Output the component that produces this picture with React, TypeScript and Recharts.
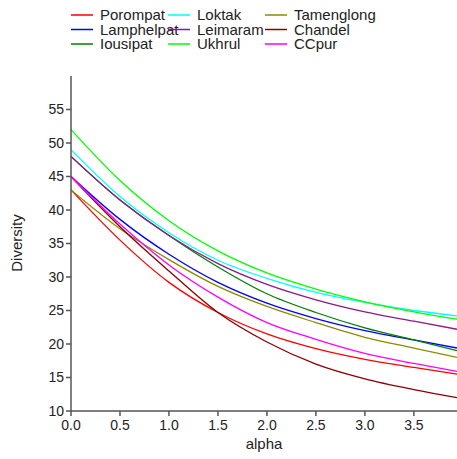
import React from "react";
import { LineChart, Line, XAxis, YAxis, Label } from "recharts";

const alphas = [0, 0.5, 1.0, 1.5, 2.0, 2.5, 3.0, 3.5, 3.94];

const porompat = [43, 35.5, 29.2, 24.7, 21.5, 19.3, 17.7, 16.5, 15.5];
const lamphelpat = [45, 38.6, 33.4, 29.2, 26.1, 23.8, 22.0, 20.6, 19.4];
const iousipat = [48, 41.5, 36.2, 31.5, 27.5, 24.7, 22.4, 20.6, 19.0];
const loktak = [49, 42.0, 36.6, 32.5, 29.8, 27.7, 26.2, 25.0, 24.2];
const leimaram = [48, 41.5, 36.2, 32.0, 28.9, 26.6, 24.8, 23.4, 22.2];
const ukhrul = [52, 44.4, 38.4, 33.9, 30.6, 28.2, 26.3, 24.8, 23.7];
const tamenglong = [43, 37.2, 32.6, 28.6, 25.6, 23.2, 21.0, 19.4, 18.0];
const chandel = [45, 37.5, 30.9, 24.7, 20.3, 17.0, 14.8, 13.2, 12.0];
const ccpur = [45, 37.9, 31.8, 27.0, 23.2, 20.7, 18.6, 17.1, 15.9];

const xTicks = [0, 0.5, 1.0, 1.5, 2.0, 2.5, 3.0, 3.5];
const yTicks = [10, 15, 20, 25, 30, 35, 40, 45, 50, 55];

// legend is laid out column by column, like the original
const series = [
  { key: "Porompat", values: porompat, color: "#ff0000" },
  { key: "Lamphelpat", values: lamphelpat, color: "#0000ff" },
  { key: "Iousipat", values: iousipat, color: "#008000" },
  { key: "Loktak", values: loktak, color: "#00ffff" },
  { key: "Leimaram", values: leimaram, color: "#8b1a8b" },
  { key: "Ukhrul", values: ukhrul, color: "#00ff00" },
  { key: "Tamenglong", values: tamenglong, color: "#8b8b00" },
  { key: "Chandel", values: chandel, color: "#8b0000" },
  { key: "CCpur", values: ccpur, color: "#ff00ff" },
];

const data = alphas.map((a, i) => {
  const row: Record<string, number> = { alpha: a };
  for (const s of series) row[s.key] = s.values[i];
  return row;
});

const font = "'Liberation Sans', Arial, sans-serif";
const axisColor = "#555";
const textColor = "#222";

function ChartLegend() {
  return (
    <svg width={457} height={56} style={{ position: "absolute", left: 0, top: 0 }}>
      {series.map((s, i) => {
        const col = Math.floor(i / 3);
        const row = i % 3;
        const x = 71 + col * 97;
        const y = 15 + row * 14.5;
        return (
          <g key={s.key}>
            <line x1={x} x2={x + 22} y1={y} y2={y} stroke={s.color} strokeWidth={1.5} />
            <text x={x + 29} y={y + 5} fontSize={15} fontFamily={font} fill={textColor}>
              {s.key}
            </text>
          </g>
        );
      })}
    </svg>
  );
}

export default function App() {
  return (
    <div style={{ position: "absolute", left: 0, top: 0, width: 457, height: 459, background: "#fff" }}>
      <LineChart width={457} height={459} data={data} margin={{ top: 76, right: 0, bottom: 0, left: 0 }}>
        <XAxis
          dataKey="alpha"
          type="number"
          domain={[0, 3.94]}
          ticks={xTicks}
          tickFormatter={(v: number) => v.toFixed(1)}
          height={48}
          stroke={axisColor}
          strokeWidth={1.5}
          tickSize={5}
          tickMargin={4}
          tick={{ fill: textColor, fontSize: 14, fontFamily: font }}
          allowDataOverflow
        >
          <Label
            content={() => (
              <text x={264} y={449} textAnchor="middle" fontSize={15} fontFamily={font} fill={textColor}>
                alpha
              </text>
            )}
          />
        </XAxis>
        <YAxis
          type="number"
          domain={[10, 60]}
          ticks={yTicks}
          width={71}
          stroke={axisColor}
          strokeWidth={1.5}
          tickSize={5}
          tickMargin={2}
          tick={{ fill: textColor, fontSize: 14, fontFamily: font }}
          allowDataOverflow
        >
          <Label
            content={() => (
              <text
                x={22}
                y={243}
                textAnchor="middle"
                transform="rotate(-90 22 243)"
                fontSize={15}
                fontFamily={font}
                fill={textColor}
              >
                Diversity
              </text>
            )}
          />
        </YAxis>
        {series.map((s) => (
          <Line
            key={s.key}
            dataKey={s.key}
            type="monotone"
            stroke={s.color}
            strokeWidth={1.3}
            dot={false}
            isAnimationActive={false}
          />
        ))}
      </LineChart>
      <ChartLegend />
    </div>
  );
}
